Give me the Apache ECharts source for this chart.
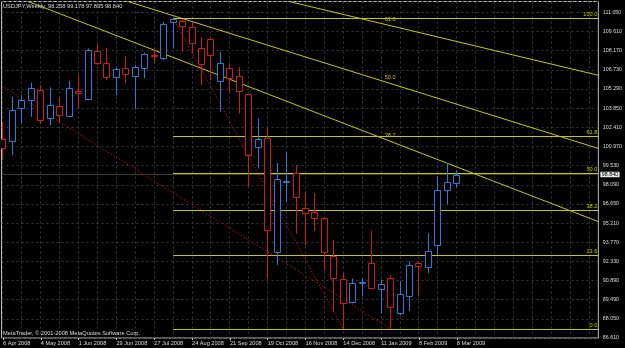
<!DOCTYPE html>
<html><head><meta charset="utf-8">
<style>html,body{margin:0;padding:0;background:#000;}#c{width:625px;height:348px;}</style>
<script src="https://cdn.jsdelivr.net/npm/echarts@6/dist/echarts.min.js"></script>
</head><body><div id="c"></div>
<script>
// ---- data ----
const symbol = 'USDJPY';
const period = 'Weekly';
const copyright = 'MetaTrader, \u00A9 2001-2008 MetaQuotes Software Corp.';
// weekly bars, bar 0 = week of 6 Apr 2008
const opens  = [101.50,101.40,103.83,104.46,105.20,103.08,104.00,103.25,105.16,104.51,108.16,107.22,106.21,106.84,106.26,106.89,107.84,107.59,110.30,110.40,109.97,108.34,109.02,105.91,106.84,106.26,104.88,100.90,101.58,93.05,98.28,98.99,96.31,96.01,95.56,92.75,90.97,89.29,90.70,92.18,90.22,91.05,88.42,89.74,92.20,91.88,93.58,97.69,98.258];
const highs  = [102.82,104.70,104.83,105.76,105.58,105.41,104.66,105.88,106.46,108.34,108.67,108.39,106.94,107.76,107.09,108.01,108.39,110.34,110.62,110.52,110.27,109.17,109.10,108.09,107.22,106.96,104.90,103.08,102.40,99.74,100.57,99.57,97.56,97.44,95.66,93.93,91.43,91.05,91.05,94.63,90.97,91.30,90.87,92.33,92.30,94.46,98.74,99.70,99.178];
const lows   = [99.94,100.32,102.70,103.20,102.65,102.58,102.70,103.16,103.83,104.45,107.09,105.96,104.83,105.71,103.76,106.09,107.22,107.46,108.34,108.09,107.97,105.58,105.96,103.58,105.00,103.46,97.94,99.32,90.97,92.05,96.81,94.43,93.55,94.63,91.67,88.54,87.24,89.17,89.72,90.25,88.42,87.27,88.29,88.61,89.74,91.45,92.82,96.61,97.895];
const closes = [100.82,103.70,104.46,105.38,102.95,104.08,103.33,105.38,104.96,108.22,107.26,106.16,106.76,106.41,106.96,107.91,107.76,110.17,110.52,110.04,108.76,107.16,107.84,107.26,106.13,105.16,100.32,101.50,94.68,98.49,98.34,97.14,95.94,95.56,93.00,91.10,89.17,90.67,90.75,90.30,90.60,88.87,89.87,92.03,91.95,93.08,97.69,98.31,98.840];
const dateLabels = ['6 Apr 2008','4 May 2008','1 Jun 2008','29 Jun 2008','27 Jul 2008','24 Aug 2008','21 Sep 2008','19 Oct 2008','16 Nov 2008','14 Dec 2008','11 Jan 2009','8 Feb 2009','8 Mar 2009'];
const dateLabelBars = [0,4,8,12,16,20,24,28,32,36,40,44,48];
const priceLabels = ['86.610','88.050','89.490','90.890','92.330','93.770','95.210','96.650','98.090','99.530','100.970','102.410','103.850','105.290','106.730','108.170','109.610','111.050'];
// Fibonacci retracement (bar, price)
const retAnchorHigh = [18, 110.62];
const retAnchorLow  = [36, 87.24];
const retLevels = [0, 23.6, 38.2, 50, 61.8, 100];
// Fibonacci fan (bar, price)
const fanAnchor1 = [-42, 124.13];
const fanAnchor2 = [41, 87.27];
const fanLevels = [38.2, 50, 61.8];
const bidPrice = 98.840;

// ---- view ----
const X_MIN = -0.157, X_MAX = 62.97;
const Y_MIN = 86.57, Y_MAX = 111.87, Y_STEP = 1.44;
const BLUE = '#2a7bd6', RED = '#d01a1a', FIB = '#c8c800', DOT = '#d01010';
const GRIDC = '#2f3d3d', TXT = '#dcdcdc', FONT = '"Liberation Sans", Arial, sans-serif';

const candleData = opens.map((o, i) => [i, o, closes[i], lows[i], highs[i]]);
const vGrid = [];
for (let i = 0; i <= Math.floor(X_MAX); i += 2) vGrid.push([i]);
const baseLines = [
  [retAnchorHigh[0], retAnchorHigh[1], retAnchorLow[0], retAnchorLow[1]],
  [fanAnchor1[0], fanAnchor1[1], fanAnchor2[0], fanAnchor2[1]]
];

function crisp(v) { return Math.round(v - 0.5) + 0.5; }

const chart = echarts.init(document.getElementById('c'), null, {renderer: 'canvas'});
const last = opens.length - 1;
const fmt = v => v.toFixed(3);

const option = {
  backgroundColor: '#000',
  animation: false,
  title: [
    {text: symbol + ',' + period + '  ' + fmt(opens[last]) + ' ' + fmt(highs[last]) + ' ' + fmt(lows[last]) + ' ' + fmt(closes[last]),
     left: 3, top: 3, padding: 0, textStyle: {color: TXT, fontSize: 5.7, fontWeight: 'normal', fontFamily: FONT}},
    {text: copyright, left: 3, top: 330, padding: 0,
     textStyle: {color: TXT, fontSize: 5.7, fontWeight: 'normal', fontFamily: FONT}}
  ],
  grid: {left: 0, top: 1.5, right: 22.5, bottom: 10, show: true, borderColor: '#bdbdbd', borderWidth: 1, backgroundColor: 'transparent'},
  xAxis: {
    type: 'value', min: X_MIN, max: X_MAX,
    splitLine: {show: false},
    axisLine: {show: false},
    axisTick: {show: true, customValues: dateLabelBars, length: 2, inside: false, lineStyle: {color: '#bdbdbd'}},
    axisLabel: {customValues: dateLabelBars, align: 'left', color: TXT, fontSize: 5.6, fontFamily: FONT, margin: 2,
      formatter: v => dateLabels[dateLabelBars.indexOf(Math.round(v))] || ''}
  },
  yAxis: {
    type: 'value', position: 'right', min: Y_MIN, max: Y_MAX, interval: Y_STEP,
    splitLine: {show: true, lineStyle: {color: GRIDC, type: [2, 3], width: 1}},
    axisLine: {show: false}, axisTick: {show: false},
    axisLabel: {color: TXT, fontSize: 5.3, fontFamily: FONT, margin: 4.5,
      formatter: (v, i) => (i < priceLabels.length ? priceLabels[i] : '')}
  },
  series: [
    { // vertical grid lines every 2 bars
      type: 'custom', data: vGrid, silent: true, clip: true, z: 1,
      renderItem: (params, api) => {
        const cs = params.coordSys;
        const x = crisp(api.coord([api.value(0), Y_MIN])[0]);
        return {type: 'line', shape: {x1: x, y1: cs.y, x2: x, y2: cs.y + cs.height},
          style: {stroke: GRIDC, lineWidth: 1, lineDash: [2, 3]}};
      }
    },
    { // bid line
      type: 'custom', data: [[bidPrice]], silent: true, clip: false, z: 2,
      renderItem: (params, api) => {
        const cs = params.coordSys;
        const y = crisp(api.coord([0, api.value(0)])[1]);
        return {type: 'group', children: [
          {type: 'line', shape: {x1: cs.x, y1: y, x2: cs.x + cs.width, y2: y}, style: {stroke: '#3c3c22', lineWidth: 1}},
          {type: 'text', style: {text: api.value(0).toFixed(3), x: cs.x + cs.width + 2, y: y, verticalAlign: 'middle', align: 'left',
            fill: '#000', backgroundColor: '#e8e8e8', padding: [0.5, 1.5, 0, 1.5], font: '5.3px ' + FONT}, z2: 10}
        ]};
      }
    },
    { // anchor base lines (red dotted)
      type: 'custom', data: baseLines, silent: true, clip: true, z: 3,
      dimensions: ['x1', 'y1', 'x2', 'y2'],
      encode: {x: [0, 2], y: [1, 3]},
      renderItem: (params, api) => {
        const a = api.coord([api.value(0), api.value(1)]);
        const b = api.coord([api.value(2), api.value(3)]);
        return {type: 'line', shape: {x1: a[0], y1: a[1], x2: b[0], y2: b[1]},
          style: {stroke: DOT, lineWidth: 1, lineDash: [1.2, 2]}};
      }
    },
    { // fibonacci retracement levels
      type: 'custom', data: retLevels.map(l => [l]), silent: true, clip: false, z: 3,
      renderItem: (params, api) => {
        const cs = params.coordSys;
        const L = api.value(0);
        const price = retAnchorLow[1] + (retAnchorHigh[1] - retAnchorLow[1]) * L / 100;
        const p = api.coord([retAnchorHigh[0], price]);
        const y = crisp(p[1]);
        return {type: 'group', children: [
          {type: 'line', shape: {x1: p[0], y1: y, x2: cs.x + cs.width, y2: y}, style: {stroke: FIB, lineWidth: 1}},
          {type: 'text', style: {text: L.toFixed(1), x: cs.x + cs.width - 1, y: y - 1, align: 'right', verticalAlign: 'bottom',
            fill: FIB, font: '5.6px ' + FONT}}
        ]};
      }
    },
    { // fibonacci fan lines
      type: 'custom', data: fanLevels.map(l => [l]), silent: true, clip: true, z: 3,
      renderItem: (params, api) => {
        const cs = params.coordSys;
        const L = api.value(0);
        const price = fanAnchor2[1] + (fanAnchor1[1] - fanAnchor2[1]) * L / 100;
        const p1 = api.coord(fanAnchor1);
        const p2 = api.coord([fanAnchor2[0], price]);
        const xr = cs.x + cs.width;
        const yr = p1[1] + (p2[1] - p1[1]) * (xr - p1[0]) / (p2[0] - p1[0]);
        return {type: 'group', children: [
          {type: 'line', shape: {x1: p1[0], y1: p1[1], x2: xr, y2: yr}, style: {stroke: FIB, lineWidth: 1}},
          {type: 'text', style: {text: L.toFixed(1), x: p2[0] + 5, y: p2[1] - 3, align: 'right', verticalAlign: 'bottom',
            fill: FIB, font: '5.6px ' + FONT}}
        ]};
      }
    },
    { // candles
      type: 'custom', data: candleData, silent: true, clip: true, z: 5,
      renderItem: (params, api) => {
        const i = api.value(0), o = api.value(1), c = api.value(2), l = api.value(3), h = api.value(4);
        const pO = api.coord([i, o]), pC = api.coord([i, c]), pL = api.coord([i, l]), pH = api.coord([i, h]);
        const x = crisp(pO[0]);
        const col = c >= o ? BLUE : RED;
        const top = Math.round(Math.min(pO[1], pC[1])) + 0.5;
        const bot = Math.round(Math.max(pO[1], pC[1])) + 0.5;
        return {type: 'group', children: [
          {type: 'line', shape: {x1: x, y1: pH[1], x2: x, y2: pL[1]}, style: {stroke: col, lineWidth: 1}},
          {type: 'rect', shape: {x: x - 3, y: top, width: 6, height: Math.max(bot - top, 0)}, style: {fill: '#000', stroke: col, lineWidth: 1}}
        ]};
      }
    }
  ]
};
chart.setOption(option);
</script></body></html>
